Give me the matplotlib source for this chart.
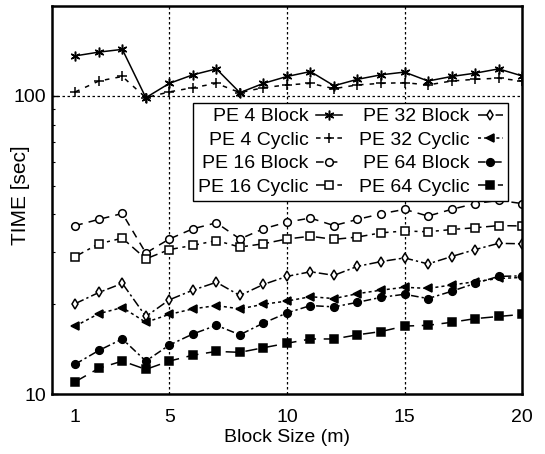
import matplotlib
matplotlib.use("Agg")
import matplotlib.pyplot as plt
from matplotlib.ticker import FixedLocator, NullFormatter, LogLocator

block_size = list(range(1, 21))

pe4_block = [136, 140, 143, 98.5, 110, 117.5, 123, 102.4, 110, 116,
             120.5, 108, 113.5, 117.5, 120, 112, 116, 119, 123, 116.5]
pe4_cyclic = [103, 112, 116, 98.5, 103, 106.4, 110, 102.4, 106.4, 108.7,
              110, 105.6, 108.7, 110, 110.6, 108.7, 112, 113.5, 114.5, 112]
pe16_block = [36.7, 38.5, 40.3, 29.7, 33.1, 35.8, 37.5, 33.1, 35.8, 37.7,
              38.9, 36.7, 38.5, 40.2, 41.6, 39.5, 41.6, 43.5, 44.6, 43.5]
pe16_cyclic = [28.9, 31.9, 33.3, 28.4, 30.5, 31.5, 32.7, 31.1, 31.9, 33.1,
               33.8, 33.0, 33.6, 34.7, 35.2, 35.0, 35.6, 36.1, 36.7, 36.6]
pe32_block = [20.1, 21.9, 23.5, 18.2, 20.7, 22.3, 23.7, 21.4, 23.3, 24.8,
              25.7, 25.0, 26.8, 27.8, 28.6, 27.3, 28.9, 30.5, 32.0, 31.9]
pe32_cyclic = [16.9, 18.6, 19.5, 17.4, 18.5, 19.3, 19.8, 19.3, 20.0, 20.5,
               21.2, 20.9, 21.7, 22.3, 22.8, 22.6, 23.2, 23.8, 24.4, 24.6]
pe64_block = [12.6, 14.0, 15.3, 12.9, 14.6, 15.9, 17.0, 15.8, 17.3, 18.7,
              19.8, 19.6, 20.3, 21.1, 21.6, 20.9, 22.1, 23.5, 24.8, 24.9]
pe64_cyclic = [11.0, 12.2, 12.9, 12.1, 12.9, 13.5, 13.9, 13.8, 14.3, 14.8,
               15.3, 15.3, 15.8, 16.2, 16.9, 17.0, 17.4, 17.9, 18.2, 18.5]

x_ticks = [1, 5, 10, 15, 20]
y_ticks = [10, 100]

plt.rcParams["font.family"] = ["Liberation Sans", "DejaVu Sans"]

fig = plt.figure(figsize=(5.45, 4.54), dpi=100)
ax = fig.add_axes([0.095, 0.132, 0.863, 0.855])

asterisk = (6, 2, 0)
series = [
    ("PE 4 Block", pe4_block, "-", asterisk, "k"),
    ("PE 4 Cyclic", pe4_cyclic, (0, (3, 4)), "+", "k"),
    ("PE 16 Block", pe16_block, (0, (5, 4)), "o", "w"),
    ("PE 16 Cyclic", pe16_cyclic, (0, (6, 3, 2, 3)), "s", "w"),
    ("PE 32 Block", pe32_block, (0, (6, 2, 1.5, 2)), "d", "w"),
    ("PE 32 Cyclic", pe32_cyclic, (0, (2, 2)), "<", "k"),
    ("PE 64 Block", pe64_block, (0, (5, 2, 1.5, 2)), "o", "k"),
    ("PE 64 Cyclic", pe64_cyclic, (0, (8, 5)), "s", "k"),
]

for label, vals, ls, mk, fc in series:
    ms = 7 if mk in (asterisk, "+") else 5.5
    ax.plot(block_size, vals, color="k", linestyle=ls, linewidth=1.1,
            marker=mk, markersize=ms, markerfacecolor=fc,
            markeredgecolor="k", markeredgewidth=1.1, label=label)

ax.set_yscale("log")
ax.set_xlim(0, 20)
ax.set_ylim(10, 200)

ax.xaxis.set_major_locator(FixedLocator(x_ticks))
ax.set_xticklabels([str(t) for t in x_ticks])
ax.yaxis.set_major_locator(FixedLocator(y_ticks))
ax.set_yticklabels([str(t) for t in y_ticks])
ax.yaxis.set_minor_locator(LogLocator(subs=range(2, 10)))
ax.yaxis.set_minor_formatter(NullFormatter())

ax.tick_params(axis="both", which="major", direction="in", length=4,
               width=1, labelsize=14)
ax.tick_params(axis="y", which="major", pad=4)
ax.tick_params(axis="x", which="major", pad=11, length=0)
ax.tick_params(axis="y", which="minor", direction="in", length=2, width=0.8)

for sp in ax.spines.values():
    sp.set_linewidth(1.8)

for xv in [5, 10, 15]:
    ax.axvline(xv, color="k", linestyle=(0, (2, 2)), linewidth=0.9, zorder=0)
ax.axhline(100, color="k", linestyle=(0, (2, 2)), linewidth=0.9, zorder=0)

ax.set_xlabel("Block Size (m)", fontsize=14, labelpad=2)
ax.set_ylabel("TIME [sec]", fontsize=15)
ax.yaxis.set_label_coords(-0.047, 0.513)

leg = ax.legend(loc="upper right", bbox_to_anchor=(0.99, 0.775), ncol=2,
                markerfirst=False, fontsize=14, handlelength=1.3,
                handletextpad=0.4, labelspacing=0.3, columnspacing=0.9,
                borderpad=0.25, fancybox=False, framealpha=1,
                edgecolor="k")
leg.get_frame().set_linewidth(1.0)

fig.savefig("out.png", dpi=100)
